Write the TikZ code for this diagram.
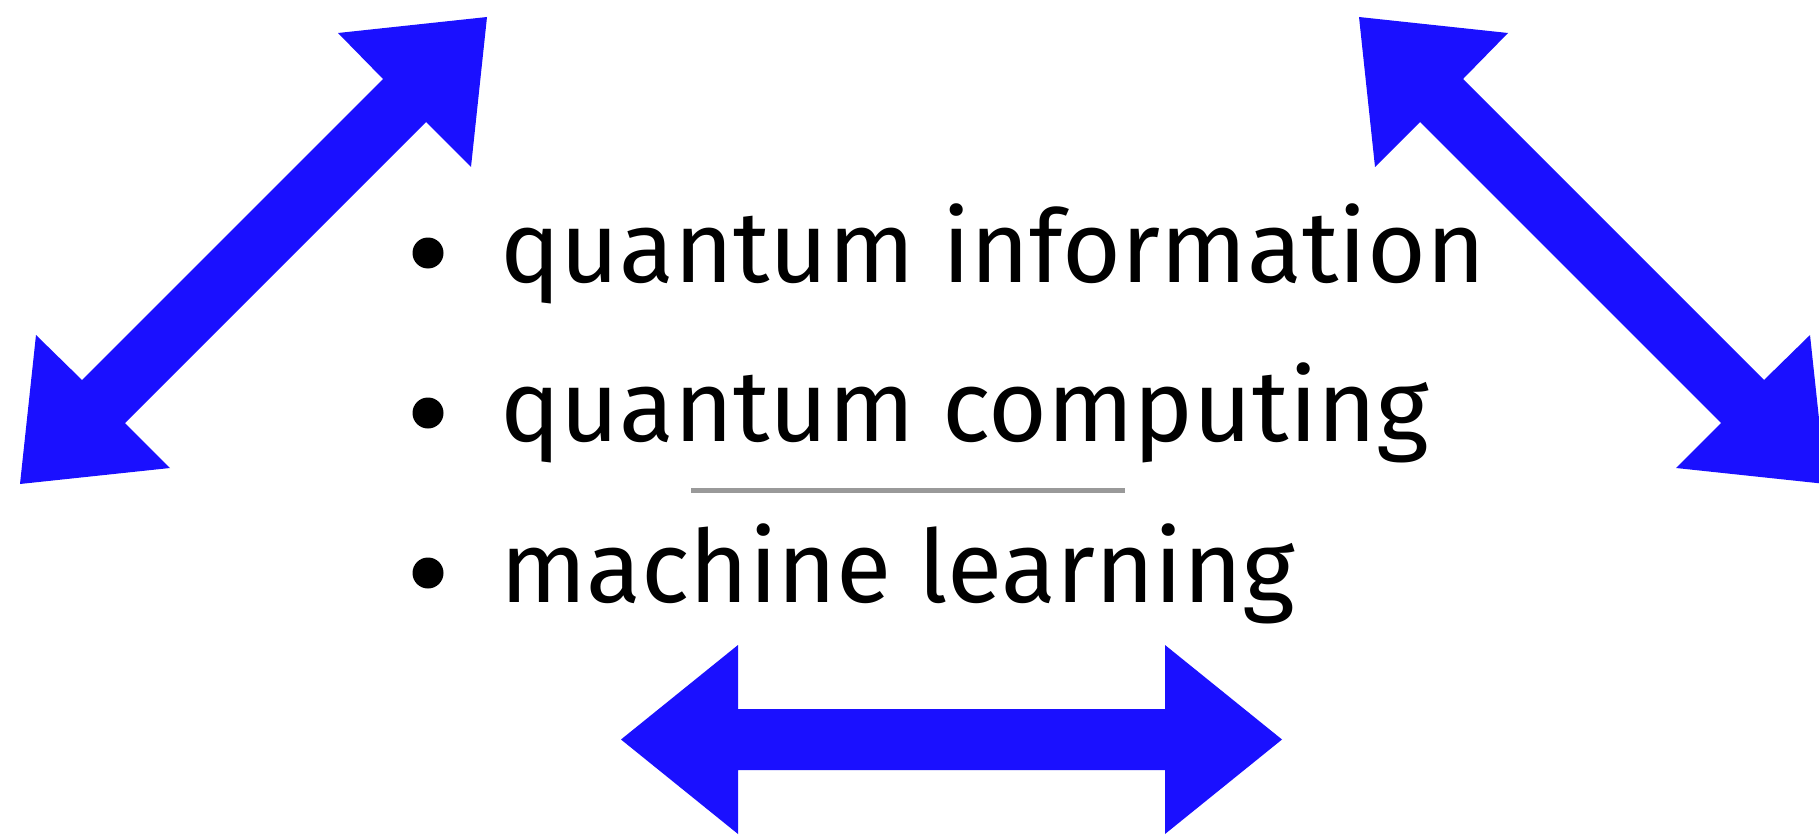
\documentclass[tikz,border=0pt]{standalone}
\usepackage{fontspec}
\setmainfont{Fira Sans}
\definecolor{arrowblue}{RGB}{26,16,255}
\definecolor{rulegray}{RGB}{153,153,153}
\tikzset{
  bigarrow/.style={fill=arrowblue, draw=none},
  bulletdot/.style={circle, fill=black, inner sep=0pt, minimum size=31pt},
  itemtext/.style={anchor=base west, inner sep=0pt, font=\fontsize{101}{120}\selectfont},
  sepline/.style={draw=rulegray, line width=5pt}
}
\begin{document}
\begin{tikzpicture}[x=1pt,y=-1pt]
\useasboundingbox (0,0) rectangle (1819,837);
% diagonal arrow, top left
\path[bigarrow] (487,17) -- (471,167) -- (426,122) -- (125,423) -- (170,468) -- (20,484)
  -- (36,335) -- (82,380) -- (383,79) -- (338,33) -- cycle;
% diagonal arrow, top right
\path[bigarrow] (1359,17) -- (1375,167) -- (1420,122) -- (1721,423) -- (1676,468) -- (1826,484)
  -- (1810,335) -- (1764,380) -- (1463,79) -- (1508,33) -- cycle;
% horizontal arrow, bottom
\path[bigarrow] (621,739.5) -- (738,645) -- (738,709) -- (1165,709) -- (1165,645) -- (1282,739.5)
  -- (1165,834) -- (1165,770) -- (738,770) -- (738,834) -- cycle;
% bullets
\node[bulletdot] (b1) at (428,253) {};
\node[bulletdot] (b2) at (428,413) {};
\node[bulletdot] (b3) at (428,573) {};
% texts
\node[itemtext] (t1) at (500,282) {quantum information};
\node[itemtext] (t2) at (500,441) {quantum computing};
\node[itemtext] (t3) at (500,602) {machine learning};
% separator
\coordinate (s1) at (691,490);
\coordinate (s2) at (1125,490);
\draw[sepline] (s1) -- (s2);
\end{tikzpicture}
\end{document}
